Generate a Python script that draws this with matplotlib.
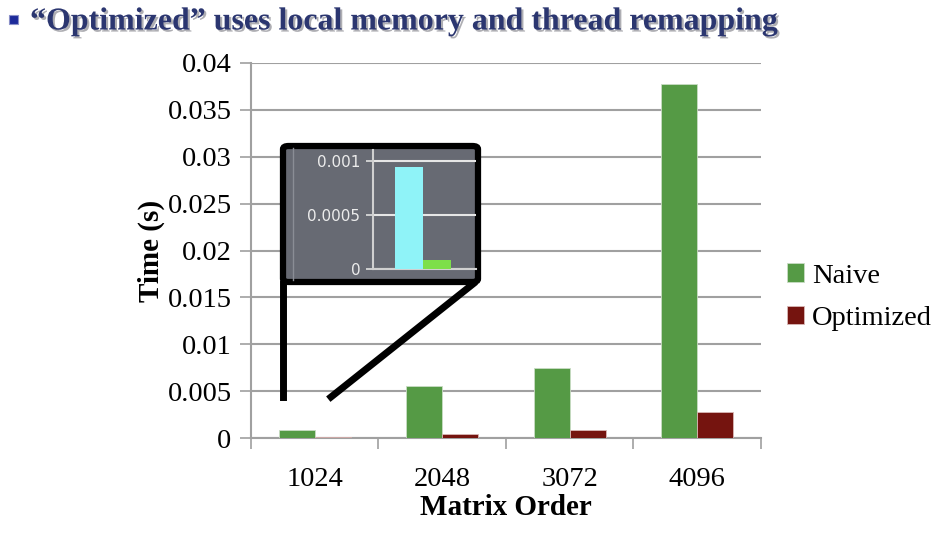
import matplotlib
matplotlib.use("Agg")
import matplotlib.pyplot as plt
import matplotlib.patheffects as pe
from matplotlib.lines import Line2D
from matplotlib.patches import FancyBboxPatch, Rectangle
import numpy as np

orders = ["1024", "2048", "3072", "4096"]
naive = [0.00085, 0.0056, 0.0075, 0.0378]
optimized = [0.00007, 0.0004, 0.00082, 0.00278]
yticks = [0, 0.005, 0.01, 0.015, 0.02, 0.025, 0.03, 0.035, 0.04]

# zoomed view of the 1024 case
zoom_naive = [0.00094]
zoom_opt = [0.000086]
zoom_ticks = [0, 0.0005, 0.001]

green = "#559a45"
red = "#75140f"
serif = "Liberation Serif"

W, H = 934, 536
fig = plt.figure(figsize=(W / 100, H / 100), dpi=100)

ax = fig.add_axes([251 / W, 1 - 438 / H, (761 - 251) / W, (438 - 63) / H])
x = np.arange(len(orders))
bw = 0.283
ax.bar(x - bw / 2, naive, bw, color=green, edgecolor="#c9dcc4", linewidth=0.6, label="Naive", zorder=3)
ax.bar(x + bw / 2, optimized, bw, color=red, edgecolor="#d9b8b6", linewidth=0.6, label="Optimized", zorder=3)
ax.set_xlim(-0.5, len(orders) - 0.5)
ax.set_ylim(0, 0.04)
ax.set_yticks(yticks)
ax.set_yticklabels(["0" if v == 0 else ("%g" % v) for v in yticks], fontfamily=serif, fontsize=20.5)
ax.set_xticks(x)
ax.set_xticklabels(orders, fontfamily=serif, fontsize=20.5)
ax.set_xticks(np.arange(len(orders) + 1) - 0.5, minor=True)
ax.tick_params(axis="x", which="major", length=0, pad=21)
ax.tick_params(axis="x", which="minor", length=8, color="#a0a0a0", width=1.2)
ax.tick_params(axis="y", length=8, color="#a0a0a0", width=1.2, pad=6)
ax.yaxis.grid(True, color="#a0a0a0", linewidth=1.5, zorder=0)
for s in ["top", "right"]:
    ax.spines[s].set_visible(False)
for s in ["left", "bottom"]:
    ax.spines[s].set_color("#a0a0a0")
    ax.spines[s].set_linewidth(1.5)
ax.set_xlabel("Matrix Order", fontfamily=serif, fontweight="bold", fontsize=21, labelpad=1)
ax.set_ylabel("Time (s)", fontfamily=serif, fontweight="bold", fontsize=21, labelpad=2)

leg = ax.legend(loc="center left", bbox_to_anchor=(1.0, 0.375), frameon=False,
                prop={"family": serif, "size": 20.5}, handlelength=0.6, handleheight=0.6,
                handletextpad=0.3, labelspacing=0.62)

# inset box
box = FancyBboxPatch((283 / W, 1 - 282 / H), (478 - 283) / W, (282 - 146) / H,
                     boxstyle="round,pad=0,rounding_size=0.006", transform=fig.transFigure,
                     facecolor="#676a73", edgecolor="black", linewidth=4.5, zorder=5)
fig.add_artist(box)
fig.add_artist(Line2D([293 / W, 293 / W], [1 - 280 / H, 1 - 148 / H], transform=fig.transFigure,
                      color="#8a8d95", linewidth=1, zorder=6))

ins = fig.add_axes([373 / W, 1 - 269 / H, (476 - 373) / W, (269 - 150) / H], zorder=7)
ins.patch.set_alpha(0)
ins.bar([-0.135], zoom_naive, 0.27, color="#8ff3f8", zorder=3)
ins.bar([0.135], zoom_opt, 0.27, color="#7ddf4a", zorder=3)
ins.set_xlim(-0.485, 0.515)
ins.set_ylim(0, 0.0011)
ins.set_yticks(zoom_ticks)
ins.set_yticklabels(["0", "0.0005", "0.001"], color="#ececec", fontsize=11)
ins.set_xticks([])
ins.tick_params(axis="y", length=5, color="#e0e0e0", width=1.2, pad=4)
ins.yaxis.grid(True, color="#e6e6e6", linewidth=1.5, zorder=0)
for s in ["top", "right"]:
    ins.spines[s].set_visible(False)
for s in ["left", "bottom"]:
    ins.spines[s].set_color("#d0d0d0")
    ins.spines[s].set_linewidth(1.5)

# connector lines down to the 1024 bars
fig.add_artist(Line2D([283 / W, 283 / W], [1 - 284 / H, 1 - 397 / H], transform=fig.transFigure,
                      color="black", linewidth=5, zorder=4))
fig.add_artist(Line2D([473 / W, 331 / W], [1 - 284 / H, 1 - 397 / H], transform=fig.transFigure,
                      color="black", linewidth=5, zorder=4))

# slide title
fig.add_artist(Rectangle((9 / W, 1 - 24 / H), 9 / W, 9 / H, transform=fig.transFigure,
                         facecolor="#1d2a9a", edgecolor="#8a90c8", linewidth=0.8))
fig.text(30 / W, 1 - 22 / H, "\u201cOptimized\u201d uses local memory and thread remapping",
         fontfamily=serif, fontweight="bold", fontsize=23, color="#2b3670", va="center",
         path_effects=[pe.withSimplePatchShadow(offset=(1.5, -1.5), shadow_rgbFace="#9a9aa0", alpha=0.8)])

fig.savefig("out.png", dpi=100)
